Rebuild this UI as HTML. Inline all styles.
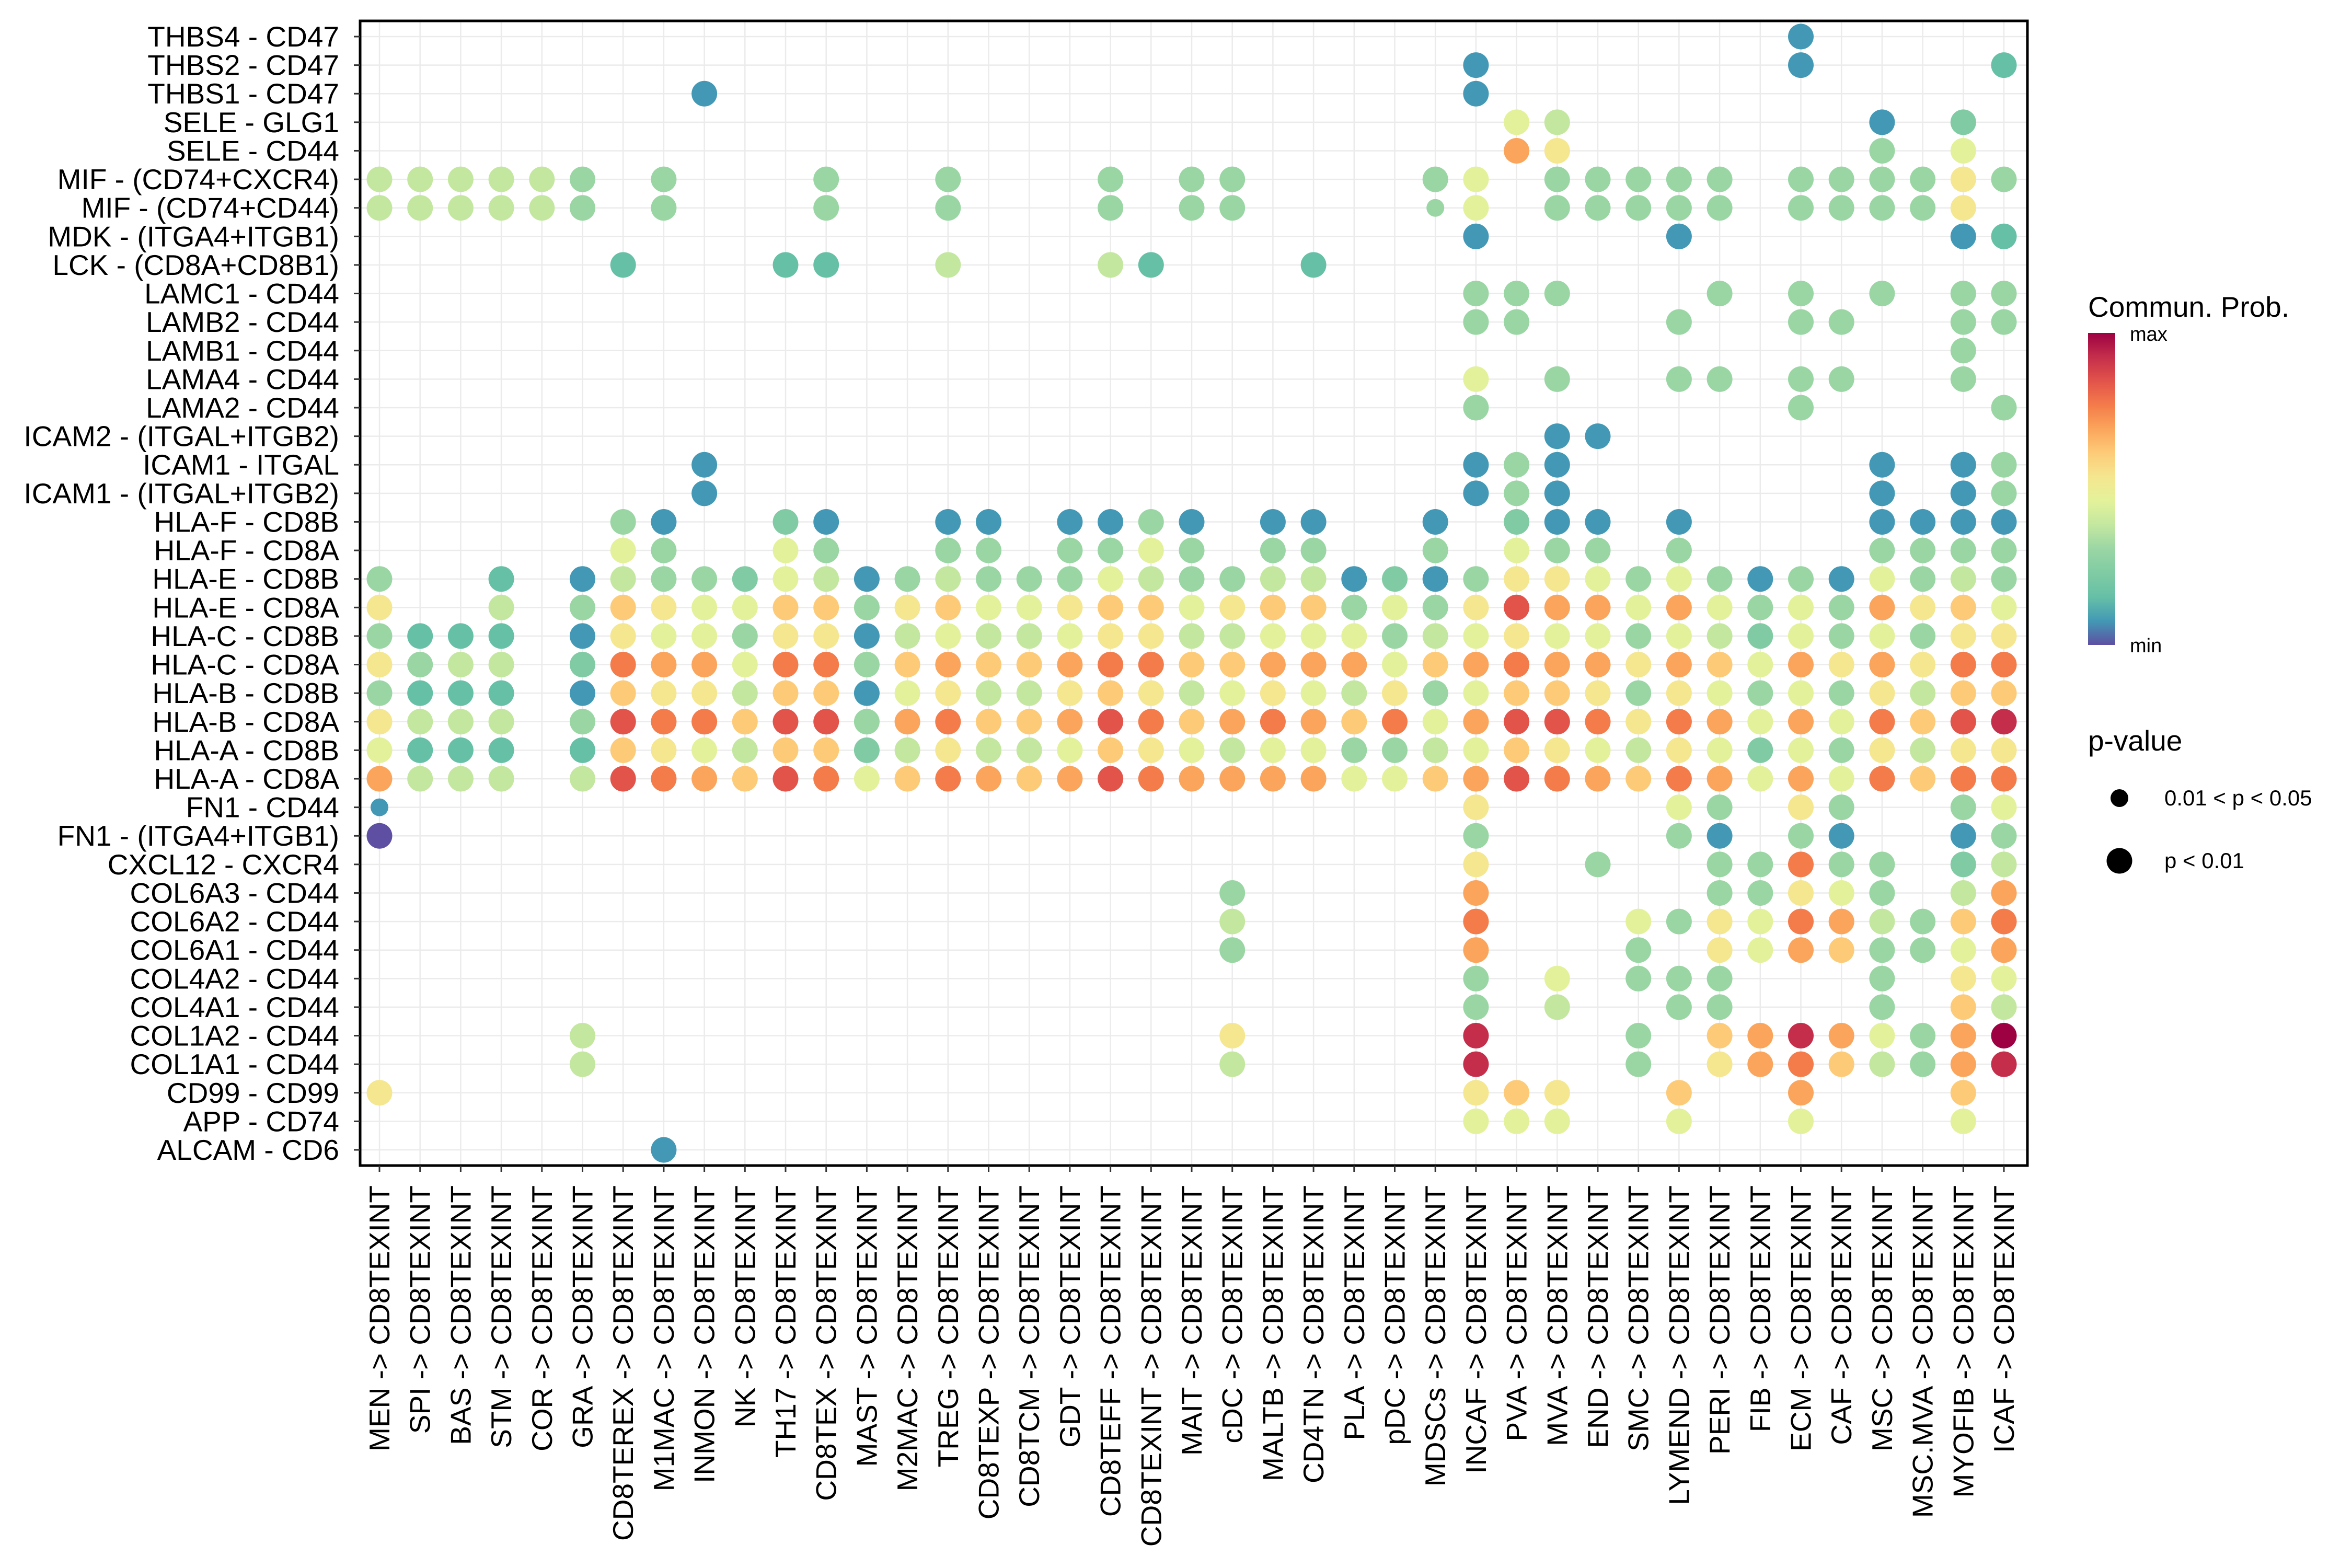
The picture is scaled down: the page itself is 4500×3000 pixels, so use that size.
<!DOCTYPE html>
<html><head><meta charset="utf-8">
<style>
html,body{margin:0;padding:0;background:#fff;}
svg{display:block;font-family:"Liberation Sans",Arial,sans-serif;}
</style></head>
<body>
<svg id="chart" width="4500" height="3000" viewBox="0 0 4500 3000" xmlns="http://www.w3.org/2000/svg">
<rect x="0" y="0" width="4500" height="3000" fill="#fff"/>
<g id="grid"></g><g id="dots"></g><g id="axes"></g><g id="legend"></g>
</svg>
<script>
// ---- data ----
const senders = ["MEN","SPI","BAS","STM","COR","GRA","CD8TEREX","M1MAC","INMON","NK","TH17","CD8TEX","MAST","M2MAC","TREG","CD8TEXP","CD8TCM","GDT","CD8TEFF","CD8TEXINT","MAIT","cDC","MALTB","CD4TN","PLA","pDC","MDSCs","INCAF","PVA","MVA","END","SMC","LYMEND","PERI","FIB","ECM","CAF","MSC","MSC.MVA","MYOFIB","ICAF"];
const receiver = "CD8TEXINT";
const pairs = ["THBS4 - CD47","THBS2 - CD47","THBS1 - CD47","SELE - GLG1","SELE - CD44","MIF - (CD74+CXCR4)","MIF - (CD74+CD44)","MDK - (ITGA4+ITGB1)","LCK - (CD8A+CD8B1)","LAMC1 - CD44","LAMB2 - CD44","LAMB1 - CD44","LAMA4 - CD44","LAMA2 - CD44","ICAM2 - (ITGAL+ITGB2)","ICAM1 - ITGAL","ICAM1 - (ITGAL+ITGB2)","HLA-F - CD8B","HLA-F - CD8A","HLA-E - CD8B","HLA-E - CD8A","HLA-C - CD8B","HLA-C - CD8A","HLA-B - CD8B","HLA-B - CD8A","HLA-A - CD8B","HLA-A - CD8A","FN1 - CD44","FN1 - (ITGA4+ITGB1)","CXCL12 - CXCR4","COL6A3 - CD44","COL6A2 - CD44","COL6A1 - CD44","COL4A2 - CD44","COL4A1 - CD44","COL1A2 - CD44","COL1A1 - CD44","CD99 - CD99","APP - CD74","ALCAM - CD6"];
// probability level per cell (0=min .. d=max, '.' = none); groups of 10 columns
const probLevels = [
".......... .......... .......... .....1.... .",
".......... .......... .......1.. .....1.... 2",
"........1. .......... .......1.. .......... .",
".......... .......... ........65 .......1.3 .",
".......... .......... ........97 .......4.6 .",
"555554.4.. .4..4...4. 44....46.4 4444.44447 4",
"555554.4.. .4..4...4. 44....46.4 4444.44447 .",
".......... .......... .......1.. ..1......1 2",
"......2... 22..5...52 ...2...... .......... .",
".......... .......... .......444 ...4.4.4.4 4",
".......... .......... .......44. ..4..44..4 4",
".......... .......... .......... .........4 .",
".......... .......... .......6.4 ..44.44..4 .",
".......... .......... .......4.. .....4.... 4",
".......... .......... .........1 1......... .",
"........1. .......... .......141 .......1.1 4",
"........1. .......... .......141 .......1.1 4",
"......41.. 31..11.114 1.11..1.31 1.1....111 1",
"......64.. 64..44.446 4.44..4.64 4.4....444 4",
"4..2.15443 6514544465 4455131477 6464141645 4",
"7..5.48766 8847866788 67884647b9 9696464978 6",
"4222.17664 7715655677 5566645676 6465364647 7",
"7455.3a996 aa489889aa 88999689a9 979869797a a",
"4222.18775 8816755787 5676574688 7476464758 8",
"7555.4baa8 bb49a889ba 89a98a69bb a7a9696a8b c",
"6222.28765 8835755687 6566445687 6576364757 7",
"9555.5ba98 ba68a989ba 99996689ba 98a9696a8a a",
"1......... .......... .......7.. ..64.74..4 6",
"0......... .......... .......4.. ..41.41..1 4",
".......... .......... .......7.. 4..44a44.3 5",
".......... .......... .4.....9.. ...44764.5 9",
".......... .......... .5.....a.. .6476a9548 a",
".......... .......... .4.....9.. .4.7698446 9",
".......... .......... .......4.6 .444...4.7 6",
".......... .......... .......4.5 ..44...4.8 5",
".....5.... .......... .7.....c.. .4.89c9649 d",
".....5.... .......... .5.....c.. .4.79a8549 c",
"7......... .......... .......787 ..8..9...8 .",
".......... .......... .......666 ..6..6...6 .",
".......1.. .......... .......... .......... ."
];
// cells with 0.01 < p < 0.05 (small dots): [row, col]
const weakCells = [[6,26],[27,0]];
const pLegendLabels = ["0.01 < p < 0.05","p < 0.01"];

// ---- styling ----
const palette = ["#5E4FA2","#4399B5","#66C0A6","#80CBA4","#9AD6A4","#C4E7A0","#E3F29A","#F5E690","#FDCB78","#FBA55C","#F47B4A","#E2534A","#C52E4B","#9E0142"];
const L=689,R=3879,T=40,B=2230;
const NS="http://www.w3.org/2000/svg";
const xPos = i => 726 + i*(3834-726)/(senders.length-1);
const yPos = j => 70 + j*(2200-70)/(pairs.length-1);
function mk(tag, attrs, parent){const e=document.createElementNS(NS,tag);for(const k in attrs)e.setAttribute(k,attrs[k]);parent.appendChild(e);return e;}
const grid=document.getElementById('grid'),dots=document.getElementById('dots'),axes=document.getElementById('axes'),legend=document.getElementById('legend');

// grid
senders.forEach((s,i)=>{const l=mk('line',{x1:xPos(i),x2:xPos(i),y1:T,y2:B,stroke:'#EBEBEB','stroke-width':2.5},grid);

});
pairs.forEach((p,j)=>{const l=mk('line',{x1:L,x2:R,y1:yPos(j),y2:yPos(j),stroke:'#EBEBEB','stroke-width':2.5},grid);

});

// dots
probLevels.forEach((rowStr,j)=>{
  const cells=rowStr.replace(/ /g,'');
  for(let i=0;i<cells.length;i++){
    const ch=cells[i]; if(ch==='.')continue;
    const lv=parseInt(ch,16);
    const weak=weakCells.some(c=>c[0]===j&&c[1]===i);
    const c=mk('circle',{cx:xPos(i),cy:yPos(j),r:weak?17:24.5,fill:palette[lv]},dots);
    
    
  }
});

// axes / panel border
const border=mk('rect',{x:L,y:T,width:R-L,height:B-T,fill:'none',stroke:'#000','stroke-width':5},axes);


pairs.forEach((p,j)=>{
  mk('line',{x1:L-12,x2:L,y1:yPos(j),y2:yPos(j),stroke:'#333','stroke-width':3},axes);
  const t=mk('text',{x:L-40,y:yPos(j)+19,'text-anchor':'end','font-size':55,fill:'#000'},axes);
  t.textContent=p;
  
  
});
senders.forEach((s,i)=>{
  mk('line',{x1:xPos(i),x2:xPos(i),y1:B,y2:B+12,stroke:'#333','stroke-width':3},axes);
  const t=mk('text',{x:0,y:0,'text-anchor':'end','font-size':55,fill:'#000',transform:`translate(${xPos(i)+19},${B+38}) rotate(-90)`},axes);
  t.textContent=s+' -> '+receiver;
  
  
});

// legend: colorbar
const defs=mk('defs',{},legend);
const grad=mk('linearGradient',{id:'cb',x1:0,y1:1,x2:0,y2:0},defs);
palette.forEach((c,k)=>mk('stop',{offset:(k/(palette.length-1)),'stop-color':c},grad));
const lt=mk('text',{x:3995,y:606,'font-size':55,fill:'#000'},legend);
lt.textContent='Commun. Prob.';


const cb=mk('rect',{x:3995,y:637,width:52,height:597,fill:'url(#cb)'},legend);


const mx=mk('text',{x:4075,y:652,'font-size':38,fill:'#000'},legend);mx.textContent='max';


const mn=mk('text',{x:4075,y:1248,'font-size':38,fill:'#000'},legend);mn.textContent='min';


// legend: p-value
const pt=mk('text',{x:3995,y:1436,'font-size':55,fill:'#000'},legend);pt.textContent='p-value';


[17,24.5].forEach((r,k)=>{
  const cy=1527+k*120;
  const c=mk('circle',{cx:4055,cy:cy,r:r,fill:'#000'},legend);
  
  
  const t=mk('text',{x:4141,y:cy+14,'font-size':42,fill:'#000'},legend);
  t.textContent=pLegendLabels[k];
  
  
});
</script>
</body></html>
